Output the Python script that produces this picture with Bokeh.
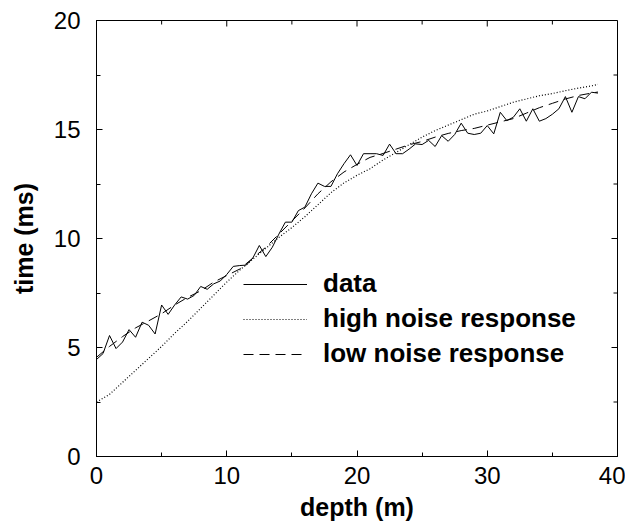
import math
from bokeh.plotting import figure
from bokeh.models import (Range1d, LinearAxis, SingleIntervalTicker, Legend,
                          LegendItem, ColumnDataSource)
from bokeh.embed import file_html
from bokeh.resources import INLINE

# ---- data ----
depth = [0.0, 0.5, 1.0, 1.5, 2.0, 2.5, 3.0, 3.5, 4.0, 4.5,
         5.0, 5.5, 6.0, 6.5, 7.0, 7.5, 8.0, 8.5, 9.0, 9.5,
         10.0, 10.5, 11.0, 11.5, 12.0, 12.5, 13.0, 13.5, 14.0, 14.5,
         15.0, 15.5, 16.0, 16.5, 17.0, 17.5, 18.0, 18.5, 19.0, 19.5,
         20.0, 20.5, 21.0, 21.5, 22.0, 22.5, 23.0, 23.5, 24.0, 24.5,
         25.0, 25.5, 26.0, 26.5, 27.0, 27.5, 28.0, 28.5, 29.0, 29.5,
         30.0, 30.5, 31.0, 31.5, 32.0, 32.5, 33.0, 33.5, 34.0, 34.5,
         35.0, 35.5, 36.0, 36.5, 37.0, 37.5, 38.0, 38.5]
time_data = [4.45, 4.72, 5.55, 4.95, 5.25, 5.82, 5.47, 6.16, 6.02, 5.62,
             6.95, 6.52, 6.95, 7.32, 7.22, 7.39, 7.80, 7.67, 7.92, 8.05,
             8.35, 8.72, 8.76, 8.78, 9.10, 9.68, 9.17, 9.60, 10.20, 10.75,
             10.75, 11.28, 11.44, 12.05, 12.54, 12.39, 12.39, 12.97, 13.43, 13.84,
             13.35, 13.89, 13.89, 13.89, 13.81, 14.33, 13.89, 13.89, 14.10, 14.34,
             14.31, 14.50, 14.22, 14.72, 14.46, 14.77, 15.29, 14.83, 14.77, 14.83,
             15.18, 14.80, 15.79, 15.41, 15.56, 15.95, 15.38, 15.95, 15.38, 15.50,
             15.70, 15.95, 16.51, 15.79, 16.51, 16.41, 16.71, 16.67]

model_depth = [0, 1, 2, 3, 4, 5, 6, 7, 8, 9, 10, 11, 12, 13, 14, 15, 16, 17, 18, 19,
               20, 21, 22, 23, 24, 25, 26, 27, 28, 29, 30, 31, 32, 33, 34, 35, 36, 37,
               38, 38.5]
high_noise = [2.50, 2.85, 3.40, 3.95, 4.50, 5.05, 5.65, 6.20, 6.80, 7.40,
              8.00, 8.55, 9.05, 9.55, 10.05, 10.50, 11.00, 11.55, 12.10, 12.55,
              12.90, 13.20, 13.60, 13.95, 14.30, 14.65, 14.95, 15.20, 15.45, 15.70,
              15.85, 16.05, 16.25, 16.40, 16.55, 16.65, 16.78, 16.90, 17.00, 17.07]
low_noise = [4.55, 5.05, 5.50, 5.90, 6.22, 6.55, 6.95, 7.30, 7.60, 8.00,
             8.30, 8.60, 9.10, 9.60, 10.20, 10.80, 11.40, 12.05, 12.60, 13.05,
             13.40, 13.72, 13.90, 14.10, 14.30, 14.45, 14.65, 14.82, 14.95, 15.05,
             15.20, 15.35, 15.50, 15.75, 16.00, 16.20, 16.40, 16.56, 16.67, 16.72]

# tick values (major and minor) for the frame's top and right edges
x_major = [0, 10, 20, 30, 40]
x_minor = [5, 15, 25, 35]
y_major = [0, 5, 10, 15, 20]
y_minor = [2.5, 7.5, 12.5, 17.5]
legend_labels = ["data", "high noise response", "low noise response"]

X_MIN, X_MAX, Y_MIN, Y_MAX = 0, 40, 0, 20
FONT = "Liberation Sans"

p = figure(width=625, height=530, output_backend="svg", toolbar_location=None,
           x_range=Range1d(X_MIN, X_MAX), y_range=Range1d(Y_MIN, Y_MAX),
           x_axis_type=None, y_axis_type=None,
           min_border_left=96, min_border_right=8, min_border_top=20,
           min_border_bottom=74)
p.outline_line_color = "black"
p.outline_line_width = 1
p.background_fill_color = "white"
p.border_fill_color = "white"


def make_axis(interval, label):
    ax = LinearAxis(ticker=SingleIntervalTicker(interval=interval, num_minor_ticks=2))
    ax.major_tick_in = 6
    ax.major_tick_out = 0
    ax.minor_tick_in = 4
    ax.minor_tick_out = 0
    ax.axis_line_color = "black"
    ax.major_tick_line_color = "black"
    ax.minor_tick_line_color = "black"
    ax.major_label_text_font = FONT
    ax.major_label_text_font_size = "24px"
    ax.major_label_text_color = "black"
    ax.axis_label = label
    ax.axis_label_text_font = FONT
    ax.axis_label_text_font_size = "25px"
    ax.axis_label_text_font_style = "bold"
    ax.axis_label_text_color = "black"
    return ax


xb = make_axis(10, "depth (m)")
xb.major_label_standoff = 10
xb.axis_label_standoff = 6
yl = make_axis(5, "time (ms)")
yl.major_label_standoff = 16
yl.axis_label_standoff = 13
p.add_layout(xb, "below")
p.add_layout(yl, "left")

# inward ticks on the top and right edges of the frame
p.ray(x=x_major, y=[Y_MAX] * len(x_major), length=6, length_units="screen",
      angle=-math.pi / 2, line_color="black", line_width=1)
p.ray(x=x_minor, y=[Y_MAX] * len(x_minor), length=4, length_units="screen",
      angle=-math.pi / 2, line_color="black", line_width=1)
p.ray(x=[X_MAX] * len(y_major), y=y_major, length=6, length_units="screen",
      angle=math.pi, line_color="black", line_width=1)
p.ray(x=[X_MAX] * len(y_minor), y=y_minor, length=4, length_units="screen",
      angle=math.pi, line_color="black", line_width=1)

src_data = ColumnDataSource(dict(x=depth, y=time_data))
src_model = ColumnDataSource(dict(x=model_depth, hi=high_noise, lo=low_noise))

r_data = p.line("x", "y", source=src_data, line_color="black", line_width=1)
r_high = p.line("x", "hi", source=src_model, line_color="black", line_width=1.2,
                line_dash="1 2")
r_low = p.line("x", "lo", source=src_model, line_color="black", line_width=1,
               line_dash="10 6")

legend = Legend(items=[LegendItem(label=legend_labels[0], renderers=[r_data]),
                       LegendItem(label=legend_labels[1], renderers=[r_high]),
                       LegendItem(label=legend_labels[2], renderers=[r_low])],
                location=(147, 87), orientation="vertical",
                glyph_width=64, glyph_height=26, label_height=26,
                spacing=4, padding=0, margin=0, label_standoff=16,
                label_text_font=FONT, label_text_font_size="26px",
                label_text_font_style="bold", label_text_color="black",
                border_line_color=None, background_fill_alpha=0)
p.add_layout(legend)

open("out.html", "w").write(file_html(p, INLINE))
